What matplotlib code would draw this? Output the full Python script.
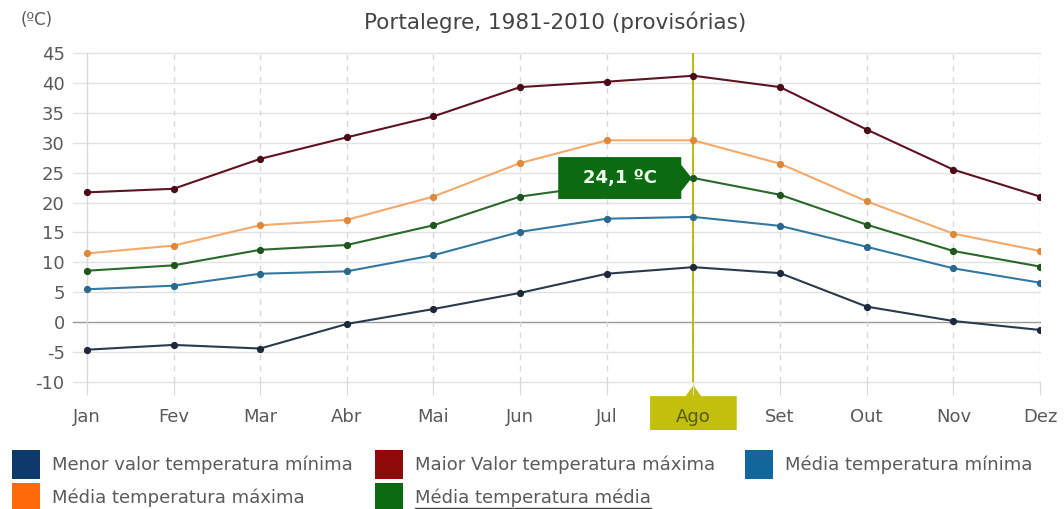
import matplotlib
matplotlib.use("Agg")
import matplotlib.pyplot as plt
import matplotlib.transforms as mtransforms
from matplotlib.patches import Polygon, Rectangle

plt.rcParams["axes.unicode_minus"] = False

months = ["Jan", "Fev", "Mar", "Abr", "Mai", "Jun", "Jul", "Ago", "Set", "Out", "Nov", "Dez"]
menor_min = [-4.6, -3.8, -4.4, -0.3, 2.2, 4.9, 8.1, 9.2, 8.2, 2.6, 0.2, -1.3]
maior_max = [21.7, 22.3, 27.3, 30.9, 34.4, 39.3, 40.2, 41.2, 39.3, 32.2, 25.5, 21.0]
media_min = [5.5, 6.1, 8.1, 8.5, 11.2, 15.1, 17.3, 17.6, 16.1, 12.6, 9.0, 6.6]
media_max = [11.5, 12.8, 16.2, 17.1, 21.0, 26.6, 30.4, 30.4, 26.5, 20.2, 14.8, 11.9]
media_med = [8.6, 9.5, 12.1, 12.9, 16.2, 21.0, 23.0, 24.1, 21.3, 16.3, 11.9, 9.3]
yticks = list(range(-10, 50, 5))
highlight = 7  # Ago

# (label, values, line colour, marker colour, legend colour)
series = [
    ("Menor valor temperatura mínima", menor_min, "#2a3a4e", "#1e2a3a", "#0d3a6a"),
    ("Maior Valor temperatura máxima", maior_max, "#5e1222", "#4a0a18", "#8e0a0a"),
    ("Média temperatura mínima", media_min, "#3478a0", "#2a6890", "#11679b"),
    ("Média temperatura máxima", media_max, "#f4a86a", "#e0883a", "#ff6a08"),
    ("Média temperatura média", media_med, "#2b682b", "#1f561f", "#0b6a11"),
]

W, H = 1064, 509
fig = plt.figure(figsize=(W / 100, H / 100), dpi=100)
ax = fig.add_axes([73 / W, 1 - 382 / H, (1040 - 73) / W, (382 - 53) / H])
x = list(range(len(months)))

for yv in yticks:
    ax.axhline(yv, color="#9a9a9a" if yv == 0 else "#e2e2e2", lw=1, zorder=0, clip_on=False)
for i in x:
    ax.axvline(i, color="#d8d8d8", lw=1, ls="-" if i == 0 else (0, (4, 4)), zorder=0)

ax.axvline(highlight, color="#b8b400", lw=1.3, zorder=1)

for label, vals, lc, mc, _ in series:
    ax.plot(x, vals, color=lc, lw=1.5, marker="o", ms=4.2, mfc=mc, mec=mc, zorder=3)

ax.set_xlim(-0.16, 11)
ax.set_ylim(-10, 45)
ax.set_xticks(x)
ax.set_xticklabels(months)
ax.set_yticks(yticks)
ax.tick_params(axis="x", length=9, color="#d8d8d8", pad=10, labelsize=13, labelcolor="#5a5a5a")
ax.tick_params(axis="y", length=0, pad=6, labelsize=13, labelcolor="#5a5a5a")
ax.get_xticklabels()[highlight].set_color("#5a5a20")
for s in ax.spines.values():
    s.set_visible(False)

# tooltip on Ago average
v = media_med[highlight]
tip = highlight - 0.02
r = highlight - 0.14
l = highlight - 1.56
tooltip = Polygon([(l, v + 3.5), (r, v + 3.5), (r, v + 2.2), (tip, v), (r, v - 2.2),
                   (r, v - 3.5), (l, v - 3.5)], closed=True, fc="#0c6a10", ec="none", zorder=5)
ax.add_patch(tooltip)
ax.text((l + r) / 2, v, "24,1 ºC", color="#f0fff0", fontsize=13, fontweight="bold",
        ha="center", va="center", zorder=6)

# highlighted x label box
trans = mtransforms.blended_transform_factory(ax.transData, ax.transAxes)
box = Polygon([(highlight - 0.5, -0.043), (highlight - 0.09, -0.043), (highlight, -0.01),
               (highlight + 0.09, -0.043), (highlight + 0.5, -0.043), (highlight + 0.5, -0.146),
               (highlight - 0.5, -0.146)], closed=True, transform=trans, fc="#c2c00c",
              ec="none", clip_on=False, zorder=0)
ax.add_patch(box)

fig.text(555 / W, 1 - 22 / H, "Portalegre, 1981-2010 (provisórias)", ha="center", va="center",
         fontsize=15.5, color="#444444")
fig.text(37 / W, 1 - 20 / H, "(ºC)", ha="center", va="center", fontsize=12, color="#5a5a5a")

# legend, laid out by hand in three columns
col_x = [12, 375, 745]
row_y = [450, 483]
texts = []
for k, (label, _, _, _, lg) in enumerate(series):
    cx = col_x[k % 3]
    ry = row_y[k // 3]
    fig.add_artist(Rectangle((cx / W, 1 - (ry + 29) / H), 28 / W, 29 / H,
                             transform=fig.transFigure, fc=lg, ec="none"))
    texts.append(fig.text((cx + 40) / W, 1 - (ry + 15) / H, label, ha="left", va="center",
                          fontsize=13, color="#5a5a5a"))

# underline "Média temperatura média"
fig.canvas.draw()
bb = texts[4].get_window_extent()
fig.add_artist(plt.Line2D([bb.x0, bb.x1], [bb.y0 - 1, bb.y0 - 1], transform=None,
                          color="#444444", lw=1))

fig.savefig("out.png", dpi=100)
